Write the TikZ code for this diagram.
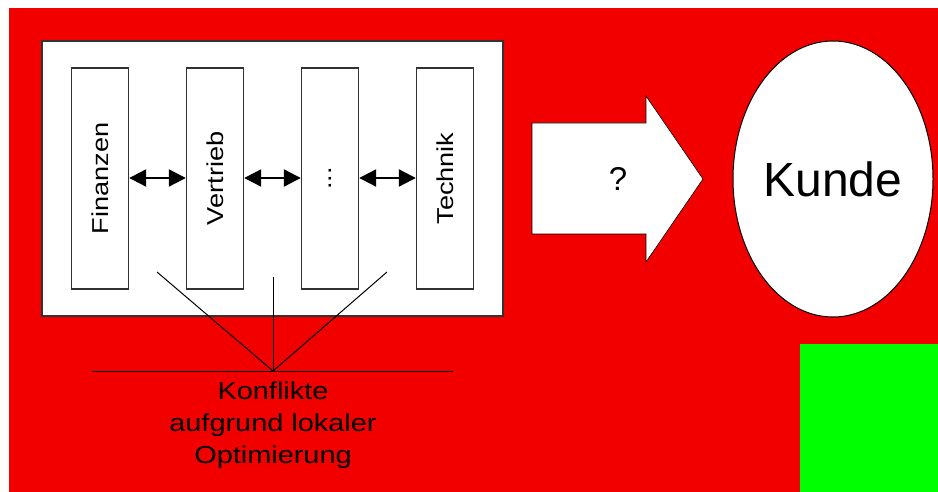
\documentclass[tikz,border=0pt]{standalone}
\usepackage{fontspec}
\setmainfont{Liberation Sans}
\newfontfamily\stretchfont[FakeStretch=1.18]{Liberation Sans}
\usetikzlibrary{arrows.meta,shapes.geometric,shapes.arrows}
\definecolor{bgred}{RGB}{242,0,0}
\definecolor{bggreen}{RGB}{0,255,0}
\definecolor{boxgray}{RGB}{50,50,50}
\tikzset{
  dept/.style={draw=boxgray,line width=1.4pt,fill=white,minimum width=57pt,minimum height=221pt,inner sep=0pt},
  deptlabel/.style={rotate=90,font=\stretchfont\fontsize{23}{26}\selectfont},
  link/.style={line width=2.2pt,{Triangle[length=17pt,width=17pt]}-{Triangle[length=17pt,width=17pt]}},
  thin/.style={line width=1pt}
}
\begin{document}
\begin{tikzpicture}[x=1pt,y=-1pt]
\useasboundingbox (0,0) rectangle (938,492);
\fill[bgred] (9,8) rectangle (938,492);
\fill[bggreen] (800,344) rectangle (938,492);
% panel
\draw[boxgray,line width=1.4pt,fill=white] (42,41) rectangle (503,316);
% departments
\node[dept] (fin) at (100,178.5) {};
\node[dept] (ver) at (215,178.5) {};
\node[dept] (dots) at (330,178.5) {};
\node[dept] (tec) at (445,178.5) {};
\node[deptlabel] at (fin.center) {Finanzen};
\node[deptlabel] at (ver.center) {Vertrieb};
\node[deptlabel] at (dots.center) {...};
\node[deptlabel] at (tec.center) {Technik};
\draw[link] (fin.east |- 0,178) -- (ver.west |- 0,178);
\draw[link] (ver.east |- 0,178) -- (dots.west |- 0,178);
\draw[link] (dots.east |- 0,178) -- (tec.west |- 0,178);
% conflict lines
\coordinate (apex) at (273,371);
\coordinate (l1) at (157,272);
\coordinate (l2) at (273,277);
\coordinate (l3) at (387,272);
\coordinate (hl) at (92,371);
\coordinate (hr) at (453,371);
\draw[thin] (l1) -- (apex) -- (l3);
\draw[thin] (l2) -- (apex);
\draw[thin] (hl) -- (hr);
\node[font=\stretchfont\fontsize{24.5}{32}\selectfont,align=center,anchor=north] (konf) at (273,378) {Konflikte\\aufgrund lokaler\\Optimierung};
% big arrow
\draw[black,line width=0.6pt,fill=white] (532,123) -- (646,123) -- (646,96) -- (703,179) -- (646,262) -- (646,234) -- (532,234) -- cycle;
\node[font=\fontsize{33}{36}\selectfont] (q) at (618,179) {?};
% customer
\node[draw,line width=1pt,fill=white,ellipse,minimum width=200pt,minimum height=276pt,inner sep=0pt,font=\fontsize{48}{56}\selectfont] (kunde) at (833,179) {Kunde};
\end{tikzpicture}
\end{document}
